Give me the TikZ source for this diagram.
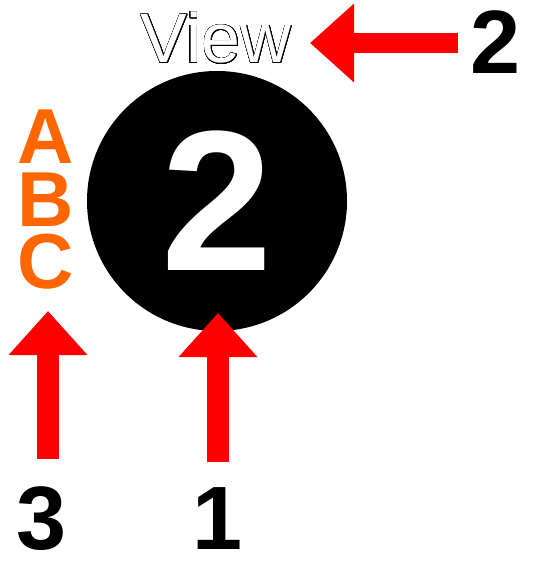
\documentclass[tikz,border=0pt]{standalone}
\usepackage{fontspec}
\setmainfont{Liberation Sans}
\usepackage{contour}
\usetikzlibrary{arrows.meta, positioning}
\definecolor{SignRed}{HTML}{FF0000}
\definecolor{TagOrange}{HTML}{FF6600}
\contourlength{0.6pt}
\contournumber{32}

\begin{document}
\begin{tikzpicture}[x=1pt, y=-1pt,
    callout/.style={draw=SignRed, line width=22pt, line cap=butt,
      -{Triangle[width=76pt, length=44pt]}},
    number/.style={inner sep=0pt, font=\fontsize{90}{90}\selectfont\bfseries},
    letter/.style={text=TagOrange, inner sep=0pt, font=\fontsize{78}{78}\selectfont\bfseries}]
  \useasboundingbox (0,0) rectangle (533,561);

  % the badge and its two captions
  \node[circle, fill=black, minimum size=260pt, inner sep=0pt, text=white,
        font=\fontsize{200}{200}\selectfont\bfseries] (badge) at (217,201) {2};
  \node[text=white, inner sep=0pt, font=\fontsize{70}{70}\selectfont]
        (view) at (216,38) {\contour{black}{View}};
  \node[letter] (a) at (46,137) {A};
  \node[letter, below=9pt of a] (b) {B};
  \node[letter, below=7pt of b] (c) {C};

  % numbers
  \node[number] (two) at (496,42) {2};
  \node[number] (three) at (42,519) {3};
  \node[number] (one) at (218,519) {1};

  % arrow ends
  \coordinate (tail1) at (218,462);
  \coordinate (tip1) at (218,313);
  \coordinate (tail2) at (458,43);
  \coordinate (tip2) at (310,43);
  \coordinate (tail3) at (48,459);
  \coordinate (tip3) at (48,311);

  \draw[callout] (tail1) -- (tip1);
  \draw[callout, line width=20pt] (tail2) -- (tip2);
  \draw[callout] (tail3) -- (tip3);
\end{tikzpicture}
\end{document}
